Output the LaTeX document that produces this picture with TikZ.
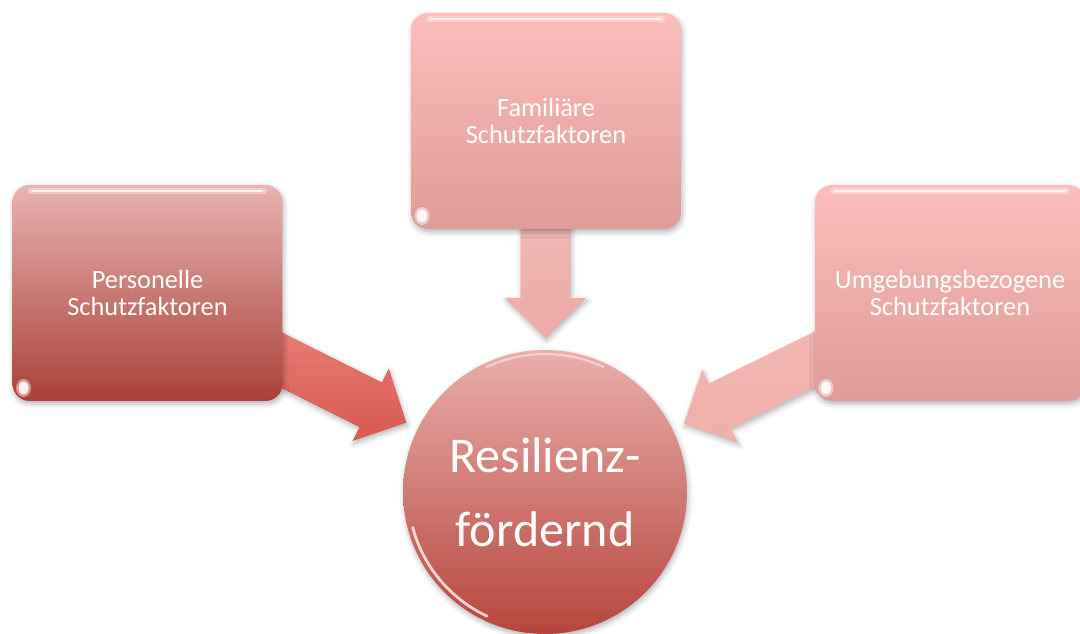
\documentclass[tikz,border=0pt]{standalone}
\usepackage{fontspec}
\setmainfont{Carlito}
\usetikzlibrary{calc, backgrounds, shadows.blur}

\definecolor{darkTop}{HTML}{E8B3B1}
\definecolor{darkBot}{HTML}{AA4139}
\definecolor{paleTop}{HTML}{FBBEBC}
\definecolor{paleBot}{HTML}{DF9C98}
\definecolor{resTop}{HTML}{EAAEAC}
\definecolor{resBot}{HTML}{B6463D}
\definecolor{persArrTop}{HTML}{EF908A}
\definecolor{persArrBot}{HTML}{D85850}
\definecolor{famArrTop}{HTML}{F4C2BF}
\definecolor{famArrBot}{HTML}{EBAAA6}
\definecolor{umgArrTop}{HTML}{F4BCB8}
\definecolor{umgArrBot}{HTML}{EFAEAA}

\tikzset{
  gloss/.style={blur shadow={shadow xshift=0.6pt, shadow yshift=-1.6pt,
      shadow blur radius=3pt, shadow opacity=30}},
  factor/.style={rounded corners=0.34cm, minimum width=5.4cm, minimum height=4.32cm,
    align=center, text=white, font=\fontsize{15}{15.5}\selectfont, gloss,
    path picture={
      \draw[white, opacity=0.35, line width=3pt, line cap=round]
        ($(path picture bounding box.north west)+(0.36cm,-0.12cm)$) --
        ($(path picture bounding box.north east)+(-0.36cm,-0.12cm)$);
      \draw[white, opacity=0.7, line width=1.2pt, line cap=round]
        ($(path picture bounding box.north west)+(0.4cm,-0.12cm)$) --
        ($(path picture bounding box.north east)+(-0.4cm,-0.12cm)$);
      \fill[white, opacity=0.45]
        ($(path picture bounding box.south west)+(0.22cm,0.26cm)$) ellipse (0.15cm and 0.18cm);
      \fill[white, opacity=0.85]
        ($(path picture bounding box.south west)+(0.22cm,0.26cm)$) ellipse (0.1cm and 0.13cm);
    }},
  darkbox/.style={factor, top color=darkTop, bottom color=darkBot},
  palebox/.style={factor, top color=paleTop, bottom color=paleBot},
  target/.style={circle, minimum size=5.68cm, inner sep=0pt, align=center, text=white,
    font=\fontsize{28.5}{42}\selectfont, top color=resTop, bottom color=resBot, gloss,
    path picture={
      \draw[white, opacity=0.75, line width=1.6pt, line cap=round]
        ([shift={(195:2.74cm)}]path picture bounding box.center) arc (195:245:2.74cm);
      \draw[white, opacity=0.45, line width=1.2pt, line cap=round]
        ([shift={(65:2.76cm)}]path picture bounding box.center) arc (65:115:2.76cm);
    }},
  feed/.style={gloss},
}

% block arrow: #1 style, #2 tail, #3 tip
\newcommand{\blockarrow}[3]{%
  \coordinate (hb) at ($(#3)!0.8cm!(#2)$);
  \path[#1] ($(#2)!0.5cm!90:(#3)$) -- ($(hb)!0.5cm!90:(#3)$) -- ($(hb)!0.81cm!90:(#3)$)
    -- (#3) -- ($(hb)!0.81cm!-90:(#3)$) -- ($(hb)!0.5cm!-90:(#3)$)
    -- ($(#2)!0.5cm!-90:(#3)$) -- cycle;
}

\begin{document}
\begin{tikzpicture}[x=0.02cm, y=-0.02cm]
  \useasboundingbox (0,0) rectangle (1080,634);

  \node[darkbox] (pers) at (147.5,293) {Personelle\\Schutzfaktoren};
  \node[palebox] (fam) at (546,121) {Familiäre\\Schutzfaktoren};
  \node[palebox] (umg) at (950,293) {Umgebungsbezogene\\Schutzfaktoren};
  \node[target] (res) at (545,492) {Resilienz-\\fördernd};

  \coordinate (pers-tip) at ($(res.center)!3.1cm!(pers.center)$);
  \coordinate (fam-tip) at ($(res.center)!3.08cm!(fam.center)$);
  \coordinate (umg-tip) at ($(res.center)!3.1cm!(umg.center)$);

  \begin{scope}[on background layer]
    \blockarrow{feed, top color=persArrTop, bottom color=persArrBot}{pers.center}{pers-tip}
    \blockarrow{feed, top color=famArrTop, bottom color=famArrBot}{fam.center}{fam-tip}
    \blockarrow{feed, top color=umgArrTop, bottom color=umgArrBot}{umg.center}{umg-tip}
  \end{scope}
\end{tikzpicture}
\end{document}
